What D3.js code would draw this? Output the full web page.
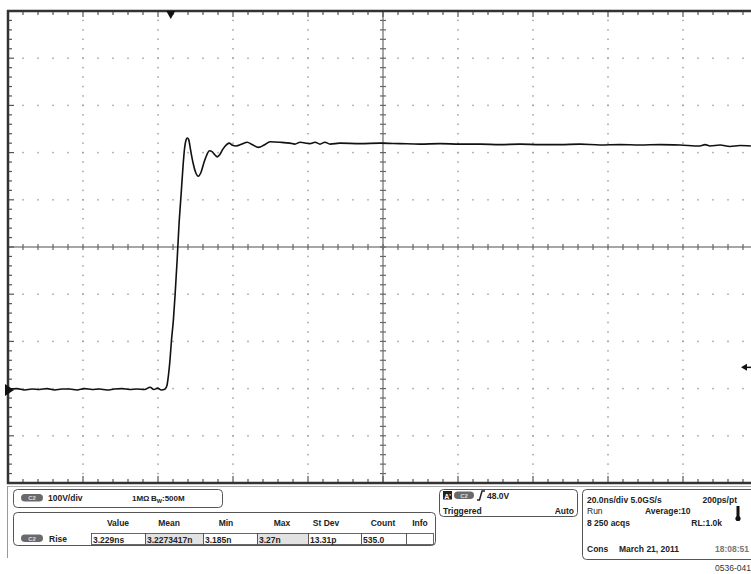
<!DOCTYPE html>
<html lang="en">
<head>
  <meta charset="UTF-8">
  <title>Rise time</title>
  <script src="https://d3js.org/d3.v7.min.js"></script>
  <style>
    body { margin: 0; background: #fff; }
    svg text { font-family: "Liberation Sans", Arial, sans-serif; font-size: 8.5px; font-weight: bold; fill: #222; }
  </style>
</head>
<body>
  <div id="chart"></div>

  <script>
    // trace: time (ns, 0 = trigger) and voltage (V)
    const timeNs = [-43.4, -41, -39, -37, -35, -33, -31, -29, -27, -25, -23, -21, -19, -17, -15, -13, -11, -9, -7,
      -5.5, -4.5, -3.5, -2.5, -1.5, -1.0, -0.6, -0.2, 0.2, 0.7, 1.15, 1.7, 2.2, 2.75, 3.3, 3.7, 4.1, 4.43, 4.8,
      5.3, 5.95, 6.6, 7.36, 8.1, 8.9, 9.7, 10.3, 11.0, 11.8, 12.4, 13.1, 13.95, 14.75, 15.6, 16.35, 17.4, 19.0,
      20.4, 21.7, 23.4, 24.9, 26.5, 29.1, 31.8, 33.1, 34.5, 37.1, 38.5, 39.8, 41.1, 42.5, 45.1, 50.5, 55.8, 61.1,
      66.5, 71.8, 77.1, 82.5, 87.8, 93.1, 98.5, 103.8, 109.1, 114.5, 119.8, 125.1, 130.5, 135.8, 141.1, 142.5,
      143.8, 146.5, 149.1, 151.8, 154.7];
    const volts = [1, 3, 0, 2, 1, 3, 0, 2, 2, 0, 3, 1, 2, 0, 2, 3, 1, 2, 1,
      6, 1, 4, 0, 2, 10, 32, 64, 106, 148, 201, 275, 350, 413, 477, 513, 530, 534, 530,
      508, 481, 462, 453, 462, 483, 500, 507, 505, 498, 494, 499, 511, 519, 523, 519, 517, 521,
      525, 520, 514, 519, 526, 525, 523, 521, 525, 522, 525, 521, 525, 521, 523, 522, 523, 522,
      521, 522, 521, 521, 520, 521, 520, 520, 521, 519, 520, 519, 520, 519, 517, 520,
      517, 519, 516, 518, 517];

    const triggerLevel = 48.0;  // V
    const timeDiv = 20;         // ns/div
    const voltDiv = 100;        // V/div

    const measHeaders = ["Value", "Mean", "Min", "Max", "St Dev", "Count", "Info"];
    const measValues = ["3.229ns", "3.2273417n", "3.185n", "3.27n", "13.31p", "535.0", ""];

    const W = 751, H = 574;
    const svg = d3.select("#chart").append("svg")
      .attr("width", W).attr("height", H);

    const x = d3.scaleLinear().domain([-43.4, 156.6]).range([8, 758]);
    const y = d3.scaleLinear().domain([-197, 803]).range([483, 11]);
    const [t0] = x.domain(), [v0] = y.domain();

    const grat = svg.append("g");
    const minorT = d3.range(0, 51).map(i => t0 + i * timeDiv / 5);
    const minorV = d3.range(0, 51).map(i => v0 + i * voltDiv / 5);

    // dotted grid
    for (let j = 1; j < 10; j++) {
      if (j === 5) continue;
      const yy = y(v0 + j * voltDiv);
      grat.selectAll(null).data(minorT.slice(1)).enter().append("rect")
        .attr("x", d => x(d) - 0.75).attr("y", yy - 0.75)
        .attr("width", 1.5).attr("height", 1.5).attr("fill", "#a0a0a0");
    }
    for (let i = 1; i < 10; i++) {
      if (i === 5) continue;
      const xx = x(t0 + i * timeDiv);
      grat.selectAll(null).data(minorV.slice(1, -1)).enter().append("rect")
        .attr("x", xx - 0.75).attr("y", d => y(d) - 0.75)
        .attr("width", 1.5).attr("height", 1.5).attr("fill", "#a0a0a0");
    }

    // centre cross with ticks
    const cx = x(t0 + 5 * timeDiv), cy = y(v0 + 5 * voltDiv);
    grat.append("line").attr("x1", cx).attr("x2", cx).attr("y1", 11).attr("y2", 483)
      .attr("stroke", "#888").attr("stroke-width", 1.5);
    grat.append("line").attr("x1", 8).attr("x2", W).attr("y1", cy).attr("y2", cy)
      .attr("stroke", "#888").attr("stroke-width", 1.5);
    grat.selectAll(null).data(minorV).enter().append("line")
      .attr("x1", cx - 3).attr("x2", cx + 3).attr("y1", d => y(d)).attr("y2", d => y(d))
      .attr("stroke", "#666").attr("stroke-width", 1.2);
    grat.selectAll(null).data(minorT).enter().append("line")
      .attr("y1", cy - 3).attr("y2", cy + 3).attr("x1", d => x(d)).attr("x2", d => x(d))
      .attr("stroke", "#666").attr("stroke-width", 1.2);

    // edge ticks
    const isMajor = (d, i) => i % 5 === 0;
    grat.selectAll(null).data(minorT).enter().append("line")
      .attr("x1", d => x(d)).attr("x2", d => x(d))
      .attr("y1", 11).attr("y2", (d, i) => 11 + (isMajor(d, i) ? 6 : 4))
      .attr("stroke", "#555").attr("stroke-width", 1.2);
    grat.selectAll(null).data(minorT).enter().append("line")
      .attr("x1", d => x(d)).attr("x2", d => x(d))
      .attr("y1", 483).attr("y2", (d, i) => 483 - (isMajor(d, i) ? 7 : 4))
      .attr("stroke", "#555").attr("stroke-width", 1.2);
    grat.selectAll(null).data(minorV).enter().append("line")
      .attr("y1", d => y(d)).attr("y2", d => y(d))
      .attr("x1", 8).attr("x2", (d, i) => 8 + (isMajor(d, i) ? 6 : 4))
      .attr("stroke", "#555").attr("stroke-width", 1.2);

    // frame
    grat.append("line").attr("x1", 7).attr("x2", W).attr("y1", 11).attr("y2", 11)
      .attr("stroke", "#333").attr("stroke-width", 2.5);
    grat.append("line").attr("x1", 8).attr("x2", 8).attr("y1", 10).attr("y2", 484)
      .attr("stroke", "#333").attr("stroke-width", 2.5);
    grat.append("line").attr("x1", 7).attr("x2", W).attr("y1", 483).attr("y2", 483)
      .attr("stroke", "#333").attr("stroke-width", 2.5);
    grat.append("line").attr("x1", 8).attr("x2", W).attr("y1", 486.5).attr("y2", 486.5)
      .attr("stroke", "#aaa").attr("stroke-width", 1);
    grat.append("line").attr("x1", 7.5).attr("x2", 7.5).attr("y1", 486).attr("y2", 558)
      .attr("stroke", "#999").attr("stroke-width", 1);

    // waveform
    const pts = timeNs.map((t, i) => [t, volts[i]]);
    const line = d3.line().x(d => x(d[0])).y(d => y(d[1])).curve(d3.curveMonotoneX);
    svg.append("path").datum(pts)
      .attr("d", line).attr("fill", "none")
      .attr("stroke", "#111").attr("stroke-width", 1.6);

    // markers: trigger position, ground, trigger level
    const tx = x(0);
    svg.append("path").attr("d", `M${tx - 4.5},11 L${tx + 4.5},11 L${tx},19 Z`).attr("fill", "#111");
    const gy = y(0);
    svg.append("path").attr("d", `M5,${gy - 6} L14,${gy} L5,${gy + 6} Z`).attr("fill", "#111");
    const ty = y(triggerLevel);
    svg.append("path").attr("d", `M741,${ty} L747,${ty - 3.5} L747,${ty + 3.5} Z`).attr("fill", "#111");
    svg.append("line").attr("x1", 746).attr("x2", W).attr("y1", ty).attr("y2", ty)
      .attr("stroke", "#111").attr("stroke-width", 1.5);

    // ---- bottom readout panels ----
    const panel = (px, py, pw, ph) => svg.append("rect")
      .attr("x", px).attr("y", py).attr("width", pw).attr("height", ph).attr("rx", 4)
      .attr("fill", "#fff").attr("stroke", "#555").attr("stroke-width", 1);
    const badge = (bx, by, bw) => {
      svg.append("rect").attr("x", bx).attr("y", by).attr("width", bw).attr("height", 7.5)
        .attr("rx", 3.75).attr("fill", "#6a6a6a");
      svg.append("text").attr("x", bx + bw / 2).attr("y", by + 6).attr("text-anchor", "middle")
        .style("font-size", "6px").style("fill", "#ddd").text("C2");
    };
    const label = (lx, ly, s, opts = {}) => svg.append("text").attr("x", lx).attr("y", ly)
      .attr("text-anchor", opts.anchor || "start")
      .style("fill", opts.fill || "#222").style("font-weight", opts.weight || "bold")
      .style("font-size", opts.size || null).text(s);

    // channel panel
    panel(13.5, 489.5, 209, 18);
    badge(21, 494, 22);
    label(48, 501, "100V/div");
    label(132, 501, "1MΩ", { size: "8px" });
    const bw = svg.append("text").attr("x", 151).attr("y", 501).style("font-size", "8px");
    bw.append("tspan").text("B");
    bw.append("tspan").attr("dy", 2).style("font-size", "5.5px").text("W");
    bw.append("tspan").attr("dy", -2).text(":500M");

    // measurement panel
    panel(13.5, 512.5, 422, 33);
    const colEdges = [91, 145, 203, 257, 308, 361, 406, 433];
    const headX = [118, 169, 226, 282, 326, 383, 420];
    measHeaders.forEach((h, i) => label(headX[i], 526, h, { anchor: "middle" }));
    badge(21, 534.5, 22);
    label(49, 542, "Rise");
    measValues.forEach((v, i) => {
      svg.append("rect").attr("x", colEdges[i] + 0.5).attr("y", 533.5)
        .attr("width", colEdges[i + 1] - colEdges[i]).attr("height", 11)
        .attr("fill", (i === 1 || i === 3) ? "#e2e2e2" : "#fff")
        .attr("stroke", "#444").attr("stroke-width", 0.8);
      label(colEdges[i] + 2, 542.5, v);
    });

    // trigger panel
    panel(439.5, 489.5, 138, 27);
    svg.append("rect").attr("x", 443).attr("y", 491).attr("width", 9).attr("height", 8.5).attr("fill", "#222");
    svg.append("text").attr("x", 447.5).attr("y", 498.5).attr("text-anchor", "middle")
      .style("font-size", "7px").style("fill", "#fff").text("A'");
    badge(454, 491.5, 20);
    svg.append("path").attr("d", "M477,500 L479.5,500 L482,491 L485,491")
      .attr("fill", "none").attr("stroke", "#222").attr("stroke-width", 1.5);
    label(487, 499, triggerLevel.toFixed(1) + "V");
    label(443, 514, "Triggered");
    label(574, 514, "Auto", { anchor: "end" });

    // timebase panel
    panel(582.5, 489.5, 180, 70);
    label(587, 503, "20.0ns/div  5.0GS/s");
    label(737, 503, "200ps/pt", { anchor: "end" });
    label(587, 514, "Run", { weight: "normal" });
    label(645, 514, "Average:10");
    label(587, 526, "8 250 acqs");
    label(722, 526, "RL:1.0k", { anchor: "end" });
    label(587, 552, "Cons");
    label(619, 552, "March 21, 2011");
    label(749, 552, "18:08:51", { anchor: "end", fill: "#777" });
    svg.append("rect").attr("x", 736.5).attr("y", 506).attr("width", 3).attr("height", 12).attr("fill", "#111");
    svg.append("circle").attr("cx", 738).attr("cy", 518.5).attr("r", 2.6).attr("fill", "#111");

    label(751, 571, "0536-041", { anchor: "end", weight: "normal", fill: "#333" });
  </script>
</body>
</html>
